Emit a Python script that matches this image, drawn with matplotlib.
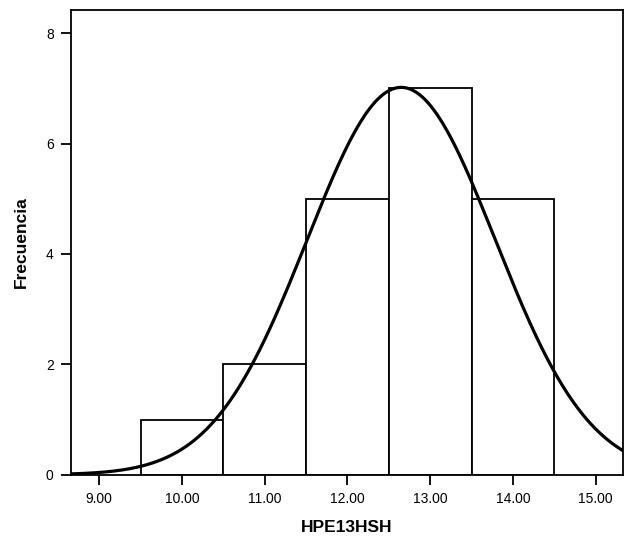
import numpy as np
import matplotlib.pyplot as plt

plt.rcParams['font.family'] = ['Liberation Sans', 'DejaVu Sans']

# histogram bins and counts
BIN_EDGES = [9.5, 10.5, 11.5, 12.5, 13.5, 14.5]
COUNTS = [1, 2, 5, 7, 5]
X_TICKS = [9, 10, 11, 12, 13, 14, 15]
Y_TICKS = [0, 2, 4, 6, 8]

# normal curve fitted to the binned data (as SPSS does)
centers = [(a + b) / 2 for a, b in zip(BIN_EDGES[:-1], BIN_EDGES[1:])]
n = sum(COUNTS)
mean = sum(c * x for c, x in zip(COUNTS, centers)) / n
sd = np.sqrt(sum(c * (x - mean) ** 2 for c, x in zip(COUNTS, centers)) / (n - 1))
width = BIN_EDGES[1] - BIN_EDGES[0]

fig = plt.figure(figsize=(6.26, 5.37), dpi=100)
ax = fig.add_axes([0.1134, 0.116, 0.8818, 0.8663])

ax.bar(centers, COUNTS, width=width, facecolor='white', edgecolor='black',
       linewidth=1.3, zorder=2)

xs = np.linspace(8.66, 15.33, 400)
ys = n * width / (sd * np.sqrt(2 * np.pi)) * np.exp(-0.5 * ((xs - mean) / sd) ** 2)
ax.plot(xs, ys, color='black', linewidth=2.3, zorder=3, clip_on=True)

ax.set_xlim(8.66, 15.33)
ax.set_ylim(0, 8.43)
ax.set_xticks(X_TICKS)
ax.set_xticklabels([f'{v:.2f}' for v in X_TICKS])
ax.set_yticks(Y_TICKS)
ax.tick_params(direction='out', length=7.5, width=1.3, labelsize=10, pad=5)
for s in ax.spines.values():
    s.set_linewidth(1.3)

ax.set_xlabel('HPE13HSH', fontsize=12.5, fontweight='bold', labelpad=10)
ax.set_ylabel('Frecuencia', fontsize=12.5, fontweight='bold', labelpad=12)

fig.savefig('out.png', dpi=100)
